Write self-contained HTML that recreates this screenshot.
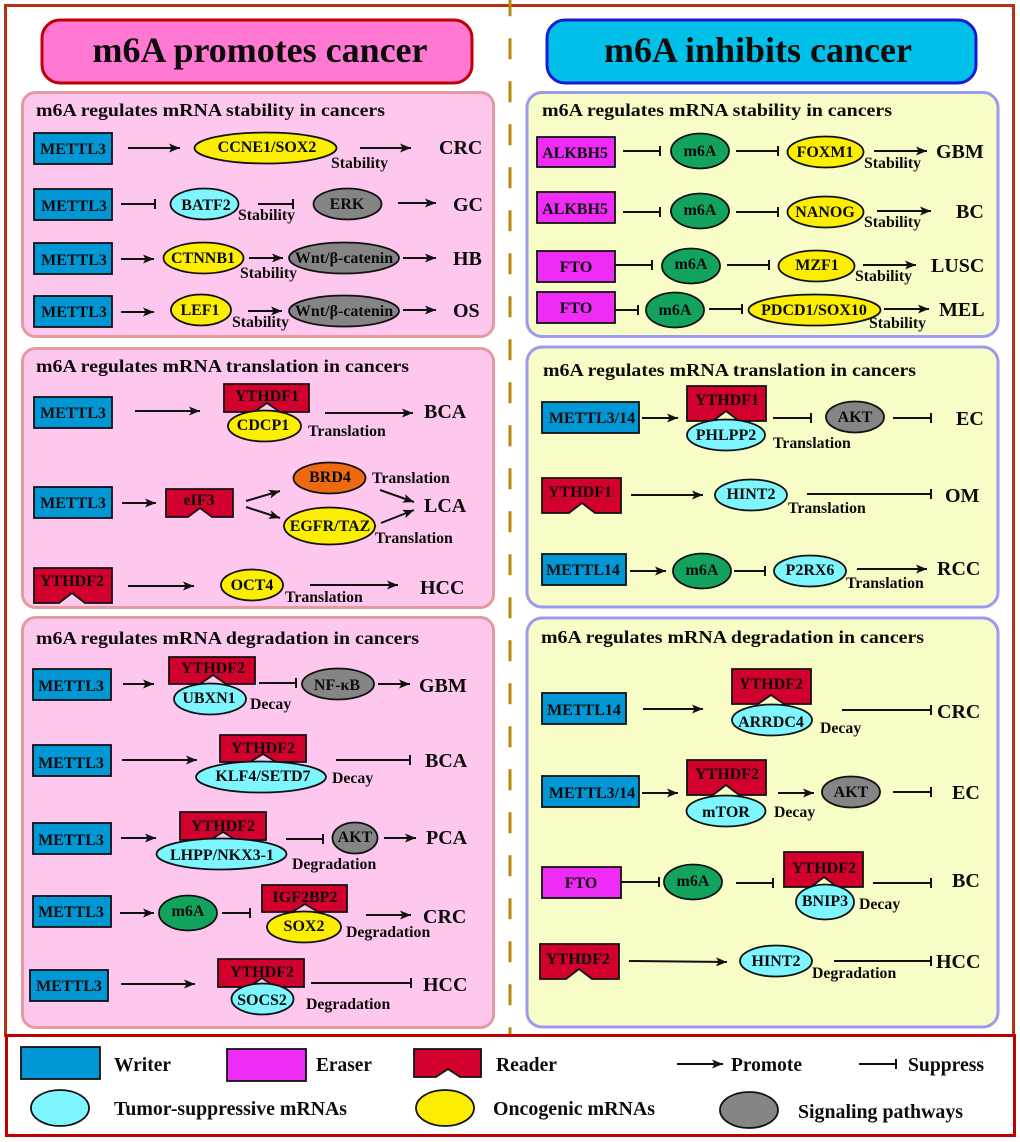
<!DOCTYPE html>
<html><head><meta charset="utf-8"><style>
html,body{margin:0;padding:0;background:#fff}
svg{display:block;filter:blur(.35px)}
text{font-family:"Liberation Serif",serif;font-weight:bold;fill:#0c0c0c}
.n{font-size:16px;text-anchor:middle}
.l{font-size:15.8px}
.d{font-size:20px}
.h{font-size:17.5px}
.g{font-size:20.5px}
.t{font-size:35.7px;text-anchor:middle}
.w{fill:#0097d4;stroke:#111;stroke-width:1.8}
.e{fill:#ee2cf6;stroke:#111;stroke-width:1.8}
.r{fill:#d2002c;stroke:#111;stroke-width:1.8}
.c{fill:#7ef6ff;stroke:#111;stroke-width:1.8}
.y{fill:#fbee00;stroke:#111;stroke-width:1.8}
.s{fill:#858585;stroke:#111;stroke-width:1.8}
.m{fill:#12a45e;stroke:#111;stroke-width:1.8}
.o{fill:#ee6a10;stroke:#111;stroke-width:1.8}
.a{stroke:#111;stroke-width:2;fill:none;marker-end:url(#ar)}
.b{stroke:#111;stroke-width:2;fill:none;marker-end:url(#tb)}
.pl{fill:#fec8ee;stroke:#e59aa0;stroke-width:3}
.pr{fill:#f8fdc8;stroke:#9a9aee;stroke-width:3}
</style></head><body>
<svg xmlns="http://www.w3.org/2000/svg" width="1020" height="1142" viewBox="0 0 1020 1142">
<defs>
<marker id="ar" markerUnits="userSpaceOnUse" markerWidth="12" markerHeight="12" refX="11" refY="6" orient="auto"><path d="M0 1.5L11 6L0 10.5L2.5 6Z" fill="#111"/></marker>
<marker id="tb" markerUnits="userSpaceOnUse" markerWidth="4" markerHeight="14" refX="1" refY="7" orient="auto"><path d="M1 2V12" stroke="#111" stroke-width="2"/></marker>
</defs>
<rect width="1020" height="1142" fill="#fff"/>
<rect x="5.5" y="5.5" width="1008" height="1030" fill="none" stroke="#b5320f" stroke-width="3"/>
<line x1="510" y1="-4.7" x2="510" y2="1035" stroke="#b8860b" stroke-width="3" stroke-dasharray="21 22"/>
<rect x="6.5" y="1035.5" width="1008" height="100" fill="#fff" stroke="#c00000" stroke-width="3"/>

<rect x="42" y="20" width="430" height="63" rx="18" fill="#ff78d2" stroke="#c00000" stroke-width="3"/>
<text class="t" x="260" y="62" textLength="335" lengthAdjust="spacingAndGlyphs">m6A promotes cancer</text>
<rect x="547" y="20" width="429" height="63" rx="18" fill="#00c0ea" stroke="#1a1ad0" stroke-width="3"/>
<text class="t" x="758" y="62" textLength="308" lengthAdjust="spacingAndGlyphs">m6A inhibits cancer</text>

<rect class="pl" x="22.5" y="92.5" width="471" height="244" rx="13"/>
<rect class="pl" x="22.5" y="348.5" width="471" height="259" rx="13"/>
<rect class="pl" x="22.5" y="617.5" width="471" height="410" rx="13"/>
<rect class="pr" x="527" y="92.5" width="471" height="244" rx="15"/>
<rect class="pr" x="527" y="347" width="471" height="260" rx="15"/>
<rect class="pr" x="527" y="618" width="471" height="409" rx="15"/>

<text class="h" x="36" y="116" textLength="349" lengthAdjust="spacingAndGlyphs">m6A regulates mRNA stability in cancers</text>
<text class="h" x="36" y="372" textLength="373" lengthAdjust="spacingAndGlyphs">m6A regulates mRNA translation in cancers</text>
<text class="h" x="36" y="644" textLength="383" lengthAdjust="spacingAndGlyphs">m6A regulates mRNA degradation in cancers</text>
<text class="h" x="542" y="116" textLength="350" lengthAdjust="spacingAndGlyphs">m6A regulates mRNA stability in cancers</text>
<text class="h" x="543" y="376" textLength="373" lengthAdjust="spacingAndGlyphs">m6A regulates mRNA translation in cancers</text>
<text class="h" x="541" y="643" textLength="383" lengthAdjust="spacingAndGlyphs">m6A regulates mRNA degradation in cancers</text>

<!-- Left P1 -->
<rect class="w" x="34" y="133" width="78" height="31"/><text class="n" x="73" y="154">METTL3</text>
<line class="a" x1="128" y1="148" x2="180" y2="148"/>
<ellipse class="y" cx="265.5" cy="148" rx="71" ry="15.5"/><text class="n" x="267" y="152">CCNE1/SOX2</text>
<text class="l" x="331" y="168">Stability</text>
<line class="a" x1="360" y1="148" x2="411" y2="148"/>
<text class="d" x="439" y="154">CRC</text>

<rect class="w" x="34" y="189" width="78" height="31"/><text class="n" x="74" y="211">METTL3</text>
<line class="b" x1="121" y1="204" x2="155" y2="204"/>
<ellipse class="c" cx="204.5" cy="204" rx="34" ry="15.5"/><text class="n" x="206" y="210">BATF2</text>
<text class="l" x="238" y="220">Stability</text>
<line class="b" x1="258" y1="204" x2="293" y2="204"/>
<ellipse class="s" cx="347.5" cy="204" rx="34" ry="15.5"/><text class="n" x="347" y="209">ERK</text>
<line class="a" x1="398" y1="203" x2="436" y2="203"/>
<text class="d" x="453" y="211">GC</text>

<rect class="w" x="34" y="243" width="78" height="31"/><text class="n" x="74" y="265">METTL3</text>
<line class="a" x1="121" y1="259" x2="154" y2="259"/>
<ellipse class="y" cx="203.5" cy="258" rx="40" ry="15.5"/><text class="n" x="203" y="263">CTNNB1</text>
<line class="a" x1="249" y1="258" x2="283" y2="258"/>
<text class="l" x="240" y="278">Stability</text>
<ellipse class="s" cx="344" cy="258" rx="55" ry="15.5"/><text class="n" x="344" y="263">Wnt/β-catenin</text>
<line class="a" x1="403" y1="258" x2="436" y2="258"/>
<text class="d" x="453" y="265">HB</text>

<rect class="w" x="34" y="296" width="78" height="31"/><text class="n" x="74" y="317">METTL3</text>
<line class="a" x1="121" y1="312" x2="154" y2="312"/>
<ellipse class="y" cx="201" cy="310" rx="30" ry="15.5"/><text class="n" x="200" y="315">LEF1</text>
<line class="a" x1="248" y1="311" x2="282" y2="311"/>
<text class="l" x="232" y="327">Stability</text>
<ellipse class="s" cx="344" cy="311" rx="55" ry="15.5"/><text class="n" x="344" y="316">Wnt/β-catenin</text>
<line class="a" x1="403" y1="310" x2="436" y2="310"/>
<text class="d" x="453" y="317">OS</text>

<!-- Left P2 -->
<rect class="w" x="34" y="397" width="78" height="31"/><text class="n" x="73" y="418">METTL3</text>
<line class="a" x1="135" y1="411" x2="200" y2="411"/>
<path class="r" d="M224 384H309V412H280L267 403L254 412H224Z"/><text class="n" x="267" y="401">YTHDF1</text>
<ellipse class="y" cx="264.5" cy="426" rx="36.5" ry="15.5"/><text class="n" x="263" y="430">CDCP1</text>
<text class="l" x="308" y="436">Translation</text>
<line class="a" x1="325" y1="413" x2="413" y2="413"/>
<text class="d" x="424" y="418">BCA</text>

<rect class="w" x="34" y="487" width="78" height="31"/><text class="n" x="73" y="508">METTL3</text>
<line class="a" x1="122" y1="503" x2="156" y2="503"/>
<path class="r" d="M166 489H233V517H212L200 508L188 517H166Z"/><text class="n" x="199" y="505">eIF3</text>
<line class="a" x1="246" y1="501" x2="280" y2="491"/>
<line class="a" x1="246" y1="507" x2="280" y2="518"/>
<ellipse class="o" cx="329.5" cy="478" rx="36" ry="15.5"/><text class="n" x="330" y="482">BRD4</text>
<text class="l" x="372" y="483">Translation</text>
<ellipse class="y" cx="329.5" cy="526" rx="45.5" ry="18.5"/><text class="n" x="330" y="531">EGFR/TAZ</text>
<text class="l" x="375" y="543">Translation</text>
<line class="a" x1="380" y1="490" x2="414" y2="502"/>
<line class="a" x1="381" y1="523" x2="414" y2="510"/>
<text class="d" x="424" y="512">LCA</text>

<path class="r" d="M34 568H112V603H85L72 593L59 603H34Z"/><text class="n" x="72" y="586">YTHDF2</text>
<line class="a" x1="128" y1="586" x2="194" y2="586"/>
<ellipse class="y" cx="252" cy="585" rx="31" ry="15.5"/><text class="n" x="252" y="590">OCT4</text>
<line class="a" x1="310" y1="585" x2="398" y2="585"/>
<text class="l" x="285" y="602">Translation</text>
<text class="d" x="420" y="594">HCC</text>

<!-- Left P3 -->
<rect class="w" x="33" y="669" width="78" height="31"/><text class="n" x="71" y="691">METTL3</text>
<line class="a" x1="123" y1="684" x2="154" y2="684"/>
<path class="r" d="M169 657H255V684H226L213 675L200 684H169Z"/><text class="n" x="213" y="673">YTHDF2</text>
<ellipse class="c" cx="210" cy="699" rx="36" ry="15.5"/><text class="n" x="209" y="703">UBXN1</text>
<text class="l" x="250" y="709">Decay</text>
<line class="b" x1="259" y1="683" x2="296" y2="683"/>
<ellipse class="s" cx="338" cy="684" rx="36" ry="15.5"/><text class="n" x="337" y="690">NF-κB</text>
<line class="a" x1="378" y1="684" x2="410" y2="684"/>
<text class="d" x="419" y="692">GBM</text>

<rect class="w" x="33" y="745" width="78" height="31"/><text class="n" x="71" y="768">METTL3</text>
<line class="a" x1="122" y1="760" x2="197" y2="760"/>
<path class="r" d="M220 735H306V762H276L263 754L250 762H220Z"/><text class="n" x="263" y="753">YTHDF2</text>
<ellipse class="c" cx="261" cy="777" rx="65" ry="15.5"/><text class="n" x="263" y="781">KLF4/SETD7</text>
<line class="b" x1="336" y1="760" x2="410" y2="760"/>
<text class="l" x="332" y="783">Decay</text>
<text class="d" x="425" y="767">BCA</text>

<rect class="w" x="33" y="823" width="78" height="31"/><text class="n" x="71" y="845">METTL3</text>
<line class="a" x1="121" y1="838" x2="156" y2="838"/>
<path class="r" d="M180 812H266V840H236L223 832L210 840H180Z"/><text class="n" x="223" y="831">YTHDF2</text>
<ellipse class="c" cx="221.5" cy="854" rx="65" ry="15.5"/><text class="n" x="222" y="860">LHPP/NKX3-1</text>
<line class="b" x1="286" y1="839" x2="323" y2="839"/>
<ellipse class="s" cx="355" cy="838" rx="22.5" ry="15.5"/><text class="n" x="355" y="842">AKT</text>
<line class="a" x1="384" y1="838" x2="416" y2="838"/>
<text class="d" x="426" y="844">PCA</text>
<text class="l" x="292" y="869">Degradation</text>

<rect class="w" x="33" y="896" width="78" height="31"/><text class="n" x="71" y="917">METTL3</text>
<line class="a" x1="120" y1="913" x2="154" y2="913"/>
<ellipse class="m" cx="188" cy="913" rx="29" ry="17.5"/><text class="n" x="188" y="916">m6A</text>
<line class="b" x1="222" y1="913" x2="250" y2="913"/>
<path class="r" d="M262 885H347V912H318L305 904L292 912H262Z"/><text class="n" x="305" y="902">IGF2BP2</text>
<ellipse class="y" cx="304" cy="927" rx="37" ry="15.5"/><text class="n" x="304" y="931">SOX2</text>
<line class="a" x1="366" y1="915" x2="411" y2="915"/>
<text class="l" x="346" y="937">Degradation</text>
<text class="d" x="423" y="923">CRC</text>

<rect class="w" x="30" y="970" width="78" height="31"/><text class="n" x="69" y="991">METTL3</text>
<line class="a" x1="121" y1="984" x2="195" y2="984"/>
<path class="r" d="M218 959H304V987H275L262 978L249 987H218Z"/><text class="n" x="262" y="977">YTHDF2</text>
<ellipse class="c" cx="262.5" cy="999" rx="31" ry="15.5"/><text class="n" x="262" y="1005">SOCS2</text>
<line class="b" x1="311" y1="983" x2="411" y2="983"/>
<text class="l" x="306" y="1009">Degradation</text>
<text class="d" x="423" y="991">HCC</text>

<!-- Right P1 -->
<rect class="e" x="537" y="137" width="78" height="30"/><text class="n" x="575" y="158">ALKBH5</text>
<line class="b" x1="623" y1="151" x2="660" y2="151"/>
<ellipse class="m" cx="700" cy="151" rx="29" ry="17.5"/><text class="n" x="700" y="156">m6A</text>
<line class="b" x1="736" y1="151" x2="778" y2="151"/>
<ellipse class="y" cx="825.5" cy="152" rx="38" ry="15.5"/><text class="n" x="825" y="157">FOXM1</text>
<text class="l" x="864" y="168">Stability</text>
<line class="a" x1="874" y1="151" x2="927" y2="151"/>
<text class="d" x="936" y="158">GBM</text>

<rect class="e" x="537" y="192" width="78" height="31"/><text class="n" x="575" y="214">ALKBH5</text>
<line class="b" x1="623" y1="212" x2="660" y2="212"/>
<ellipse class="m" cx="700" cy="211" rx="29" ry="17.5"/><text class="n" x="700" y="215">m6A</text>
<line class="b" x1="736" y1="212" x2="778" y2="212"/>
<ellipse class="y" cx="825.5" cy="212" rx="38" ry="15.5"/><text class="n" x="825" y="217">NANOG</text>
<text class="l" x="864" y="227">Stability</text>
<line class="a" x1="877" y1="211" x2="931" y2="211"/>
<text class="d" x="956" y="218">BC</text>

<rect class="e" x="537" y="251" width="78" height="31"/><text class="n" x="576" y="272">FTO</text>
<line class="b" x1="615" y1="265" x2="652" y2="265"/>
<ellipse class="m" cx="691" cy="266" rx="29" ry="17.5"/><text class="n" x="691" y="269">m6A</text>
<line class="b" x1="727" y1="265" x2="769" y2="265"/>
<ellipse class="y" cx="816.5" cy="266" rx="38" ry="15.5"/><text class="n" x="817" y="270">MZF1</text>
<text class="l" x="855" y="281">Stability</text>
<line class="a" x1="863" y1="265" x2="916" y2="265"/>
<text class="d" x="931" y="272">LUSC</text>

<rect class="e" x="537" y="292" width="78" height="31"/><text class="n" x="576" y="313">FTO</text>
<line class="b" x1="615" y1="310" x2="638" y2="310"/>
<ellipse class="m" cx="675" cy="310" rx="29" ry="17.5"/><text class="n" x="675" y="315">m6A</text>
<line class="b" x1="709" y1="309" x2="742" y2="309"/>
<ellipse class="y" cx="814.5" cy="310" rx="66" ry="15.5"/><text class="n" x="814" y="315">PDCD1/SOX10</text>
<line class="a" x1="884" y1="309" x2="929" y2="309"/>
<text class="l" x="869" y="328">Stability</text>
<text class="d" x="939" y="316">MEL</text>

<!-- Right P2 -->
<rect class="w" x="542" y="402" width="97" height="31"/><text class="n" x="592" y="423">METTL3/14</text>
<line class="a" x1="642" y1="418" x2="678" y2="418"/>
<path class="r" d="M687 386H766V421H739L726 411L713 421H687Z"/><text class="n" x="727" y="405">YTHDF1</text>
<ellipse class="c" cx="726" cy="435" rx="39" ry="15.5"/><text class="n" x="726" y="440">PHLPP2</text>
<line class="b" x1="773" y1="418" x2="811" y2="418"/>
<ellipse class="s" cx="855" cy="417" rx="29" ry="15.5"/><text class="n" x="855" y="422">AKT</text>
<line class="b" x1="893" y1="418" x2="931" y2="418"/>
<text class="d" x="956" y="425">EC</text>
<text class="l" x="773" y="448">Translation</text>

<path class="r" d="M542 478H621V513H595L582 503L569 513H542Z"/><text class="n" x="580" y="497">YTHDF1</text>
<line class="a" x1="631" y1="495" x2="703" y2="495"/>
<ellipse class="c" cx="751" cy="495" rx="36" ry="15.5"/><text class="n" x="751" y="499">HINT2</text>
<line class="b" x1="807" y1="494" x2="931" y2="494"/>
<text class="d" x="945" y="502">OM</text>
<text class="l" x="788" y="513">Translation</text>

<rect class="w" x="542" y="554" width="84" height="31"/><text class="n" x="583" y="575">METTL14</text>
<line class="a" x1="630" y1="571" x2="666" y2="571"/>
<ellipse class="m" cx="702" cy="571" rx="29" ry="17.5"/><text class="n" x="702" y="575">m6A</text>
<line class="b" x1="734" y1="571" x2="765" y2="571"/>
<ellipse class="c" cx="810" cy="571" rx="36" ry="15.5"/><text class="n" x="810" y="575">P2RX6</text>
<line class="a" x1="857" y1="569" x2="927" y2="569"/>
<text class="d" x="937" y="575">RCC</text>
<text class="l" x="846" y="588">Translation</text>

<!-- Right P3 -->
<rect class="w" x="542" y="693" width="84" height="31"/><text class="n" x="584" y="715">METTL14</text>
<line class="a" x1="643" y1="709" x2="703" y2="709"/>
<path class="r" d="M732 669H811V704H784L771 695L758 704H732Z"/><text class="n" x="771" y="689">YTHDF2</text>
<ellipse class="c" cx="772" cy="720" rx="40" ry="15.5"/><text class="n" x="771" y="727">ARRDC4</text>
<line class="b" x1="842" y1="710" x2="931" y2="710"/>
<text class="d" x="937" y="718">CRC</text>
<text class="l" x="820" y="733">Decay</text>

<rect class="w" x="542" y="776" width="97" height="31"/><text class="n" x="592" y="798">METTL3/14</text>
<line class="a" x1="642" y1="793" x2="678" y2="793"/>
<path class="r" d="M687 760H766V795H739L726 785L713 795H687Z"/><text class="n" x="727" y="779">YTHDF2</text>
<ellipse class="c" cx="726" cy="811" rx="39.5" ry="15.5"/><text class="n" x="726" y="817">mTOR</text>
<line class="a" x1="778" y1="793" x2="814" y2="793"/>
<ellipse class="s" cx="851" cy="792" rx="29" ry="15.5"/><text class="n" x="851" y="797">AKT</text>
<line class="b" x1="893" y1="792" x2="931" y2="792"/>
<text class="d" x="952" y="799">EC</text>
<text class="l" x="774" y="817">Decay</text>

<rect class="e" x="542" y="867" width="79" height="31"/><text class="n" x="581" y="888">FTO</text>
<line class="b" x1="621" y1="882" x2="659" y2="882"/>
<ellipse class="m" cx="693" cy="882" rx="29" ry="17.5"/><text class="n" x="693" y="886">m6A</text>
<line class="b" x1="736" y1="883" x2="773" y2="883"/>
<path class="r" d="M784 852H863V887H837L824 877L811 887H784Z"/><text class="n" x="824" y="873">YTHDF2</text>
<ellipse class="c" cx="825" cy="902" rx="29" ry="17.5"/><text class="n" x="825" y="906">BNIP3</text>
<text class="l" x="859" y="909">Decay</text>
<line class="b" x1="873" y1="883" x2="931" y2="883"/>
<text class="d" x="952" y="887">BC</text>

<path class="r" d="M540 944H619V979H592L579 969L566 979H540Z"/><text class="n" x="578" y="964">YTHDF2</text>
<line class="a" x1="629" y1="961" x2="727" y2="962"/>
<ellipse class="c" cx="776" cy="961" rx="36" ry="15.5"/><text class="n" x="776" y="966">HINT2</text>
<line class="b" x1="834" y1="961" x2="931" y2="961"/>
<text class="d" x="936" y="968">HCC</text>
<text class="l" x="812" y="978">Degradation</text>

<!-- Legend -->
<rect class="w" x="21" y="1047" width="79" height="32"/>
<text class="g" x="114" y="1071" textLength="57" lengthAdjust="spacingAndGlyphs">Writer</text>
<rect class="e" x="227" y="1049" width="79" height="32"/>
<text class="g" x="316" y="1071" textLength="56" lengthAdjust="spacingAndGlyphs">Eraser</text>
<path class="r" d="M414 1049H481V1077H460L448 1069L436 1077H414Z"/>
<text class="g" x="496" y="1071" textLength="61" lengthAdjust="spacingAndGlyphs">Reader</text>
<line class="a" x1="677" y1="1064" x2="723" y2="1064"/>
<text class="g" x="731" y="1071" textLength="71" lengthAdjust="spacingAndGlyphs">Promote</text>
<line class="b" x1="859" y1="1064" x2="896" y2="1064"/>
<text class="g" x="908" y="1071" textLength="76" lengthAdjust="spacingAndGlyphs">Suppress</text>
<ellipse class="c" cx="60" cy="1108" rx="29" ry="18"/>
<text class="g" x="114" y="1115" textLength="233" lengthAdjust="spacingAndGlyphs">Tumor-suppressive mRNAs</text>
<ellipse class="y" cx="445" cy="1108" rx="29" ry="18"/>
<text class="g" x="493" y="1115" textLength="162" lengthAdjust="spacingAndGlyphs">Oncogenic mRNAs</text>
<ellipse class="s" cx="749" cy="1110" rx="29" ry="18"/>
<text class="g" x="798" y="1118" textLength="165" lengthAdjust="spacingAndGlyphs">Signaling pathways</text>
</svg>
</body></html>
